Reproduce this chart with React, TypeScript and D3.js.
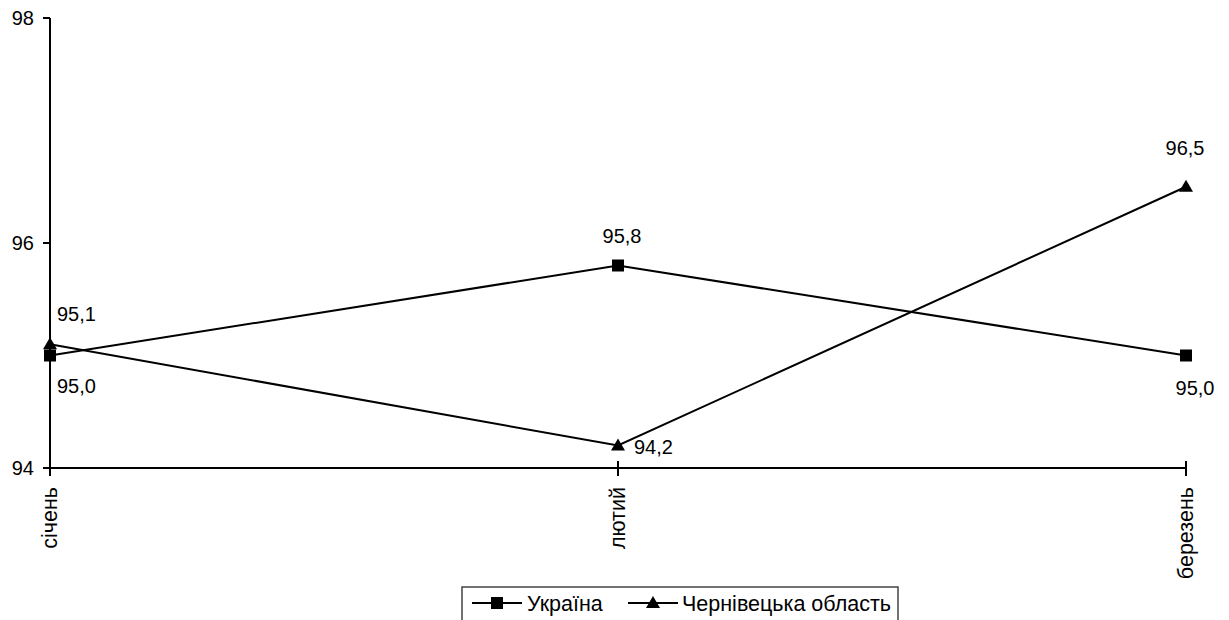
import React from "react";
import * as d3 from "d3";

const categories = ["січень", "лютий", "березень"];
const seriesNames = ["Україна", "Чернівецька область"];
const ukraineValues = [95.0, 95.8, 95.0];
const chernivtsiValues = [95.1, 94.2, 96.5];
const yTicks = [94, 96, 98];

const W = 1229;
const H = 620;
const FONT = "'Liberation Sans', Arial, sans-serif";
const FS = 20;
const FS_CAT = 21.5;

// label placement per series/point: [anchor, dx, dy]
const placements: [string, number, number][][] = [
  [["start", 7, 37], ["middle", 4, -23], ["middle", 9, 39]],
  [["start", 7, -23], ["start", 16, 8], ["middle", -1, -32]],
];

const fmt = (v: number) => d3.format(".1f")(v).replace(".", ",");

function Marker({ kind, x, y }: { kind: string; x: number; y: number }) {
  if (kind === "square") {
    return <rect x={x - 6} y={y - 6} width={12} height={12} fill="#000" />;
  }
  return <path d={`M${x},${y - 7} L${x + 7},${y + 5} L${x - 7},${y + 5} Z`} fill="#000" />;
}

export default function App() {
  const x = d3.scalePoint<string>().domain(categories).range([50, 1186]);
  const y = d3.scaleLinear().domain([94, 98]).range([468, 18]);
  const line = d3
    .line<number>()
    .x((_, i) => x(categories[i]) as number)
    .y((d) => y(d));

  const series = [
    { name: seriesNames[0], values: ukraineValues, marker: "square" },
    { name: seriesNames[1], values: chernivtsiValues, marker: "triangle" },
  ];

  const legendItems = [
    { x0: 472, x1: 522, mx: 497, tx: 527, marker: "square", name: seriesNames[0] },
    { x0: 628, x1: 678, mx: 653, tx: 682, marker: "triangle", name: seriesNames[1] },
  ];

  return (
    <svg
      width={W}
      height={H}
      style={{ position: "absolute", left: 0, top: 0, background: "#fff" }}
      fontFamily={FONT}
      fontSize={FS}
    >
      <rect x={0} y={0} width={W} height={H} fill="#fff" />
      {/* y axis */}
      <line x1={50} x2={50} y1={y(98)} y2={y(94)} stroke="#000" strokeWidth={2} />
      {yTicks.map((t) => (
        <g key={t}>
          <line x1={43} x2={50} y1={y(t)} y2={y(t)} stroke="#000" strokeWidth={2} />
          <text x={34} y={y(t)} dy="0.36em" textAnchor="end" fill="#000">
            {t}
          </text>
        </g>
      ))}
      {/* x axis */}
      <line x1={50} x2={1186} y1={y(94)} y2={y(94)} stroke="#000" strokeWidth={2} />
      {categories.map((c, i) => {
        const cx = x(c) as number;
        return (
          <g key={c}>
            <line
              x1={cx}
              x2={cx}
              y1={i === 0 ? y(94) : y(94) - 7}
              y2={y(94) + 8}
              stroke="#000"
              strokeWidth={2}
            />
            <text
              transform={`translate(${cx + 7},${487}) rotate(-90)`}
              textAnchor="end"
              fontSize={FS_CAT}
              fill="#000"
            >
              {c}
            </text>
          </g>
        );
      })}
      {/* series */}
      {series.map((s) => (
        <path key={s.name} d={line(s.values) || ""} fill="none" stroke="#000" strokeWidth={2} />
      ))}
      {series.map((s, si) =>
        s.values.map((v, i) => {
          const cx = x(categories[i]) as number;
          const cy = y(v);
          const [anchor, dx, dy] = placements[si][i];
          return (
            <g key={`${si}-${i}`}>
              <Marker kind={s.marker} x={cx} y={cy} />
              <text x={cx + dx} y={cy + dy} textAnchor={anchor} fill="#000">
                {fmt(v)}
              </text>
            </g>
          );
        })
      )}
      {/* legend */}
      <rect x={462} y={587} width={436} height={40} fill="#fff" stroke="#444" strokeWidth={1.5} />
      {legendItems.map((l) => (
        <g key={l.name}>
          <line x1={l.x0} x2={l.x1} y1={603} y2={603} stroke="#000" strokeWidth={2} />
          <Marker kind={l.marker} x={l.mx} y={603} />
          <text x={l.tx} y={611} fontSize={FS_CAT} fill="#000">
            {l.name}
          </text>
        </g>
      ))}
    </svg>
  );
}
